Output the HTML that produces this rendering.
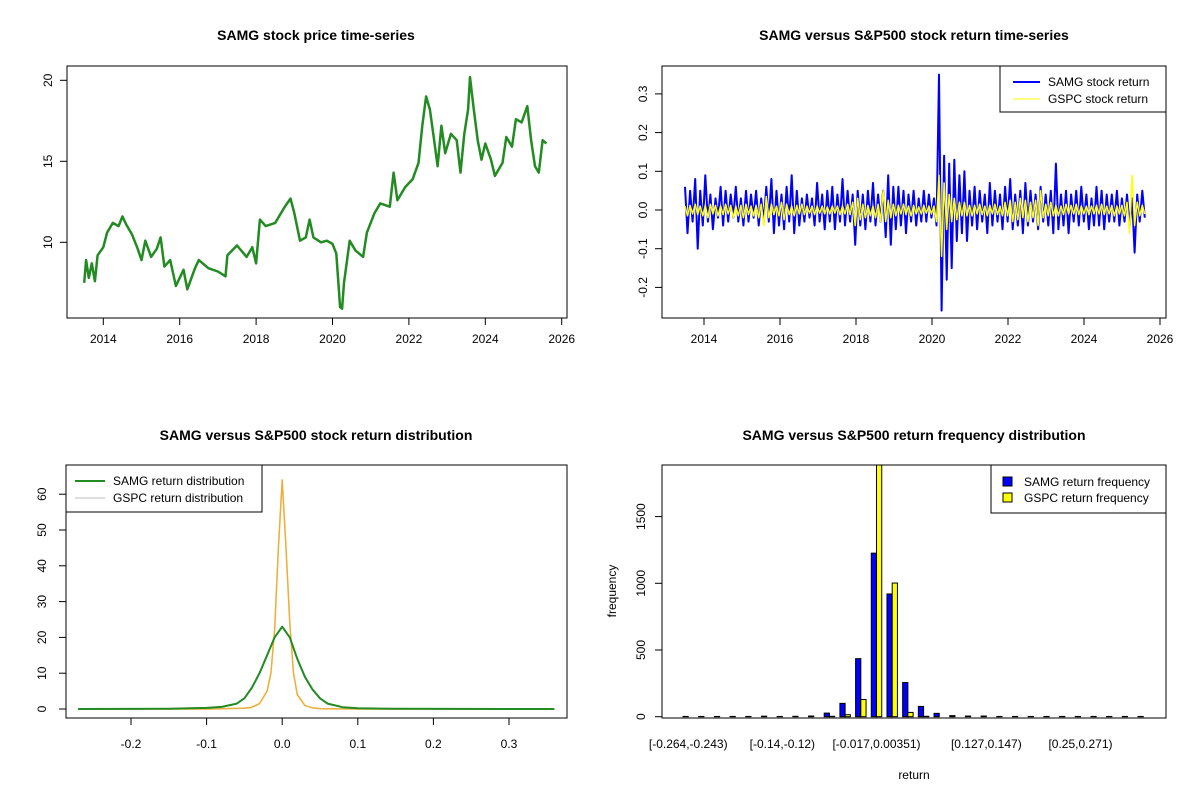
<!DOCTYPE html>
<html><head><meta charset="utf-8"><style>
body{margin:0;background:#fff}
svg{display:block}
text{font-family:"Liberation Sans",Arial,sans-serif;fill:#000}
.t{font-size:14px;font-weight:bold}
.k{font-size:12px}
</style></head><body>
<svg id="c" width="1200" height="800" viewBox="0 0 1200 800"></svg>
<script>
// ---- Panel 1 data: SAMG price ----
const priceDates=[2013.5,2013.55,2013.62,2013.7,2013.78,2013.85,2014.0,2014.1,2014.25,2014.4,2014.5,2014.6,2014.75,2014.9,2015.0,2015.1,2015.25,2015.4,2015.5,2015.6,2015.75,2015.9,2016.1,2016.2,2016.4,2016.5,2016.75,2017.0,2017.2,2017.25,2017.5,2017.75,2017.9,2018.0,2018.1,2018.25,2018.5,2018.75,2018.9,2019.0,2019.15,2019.3,2019.4,2019.5,2019.7,2019.85,2020.0,2020.1,2020.2,2020.25,2020.3,2020.45,2020.6,2020.8,2020.9,2021.1,2021.25,2021.5,2021.6,2021.7,2021.9,2022.1,2022.25,2022.35,2022.45,2022.55,2022.65,2022.75,2022.85,2022.95,2023.1,2023.25,2023.35,2023.45,2023.55,2023.6,2023.7,2023.8,2023.9,2024.0,2024.15,2024.25,2024.35,2024.45,2024.55,2024.7,2024.8,2024.95,2025.1,2025.2,2025.3,2025.4,2025.5,2025.6];
const priceVals=[7.5,8.9,7.8,8.7,7.6,9.2,9.7,10.6,11.2,11.0,11.6,11.1,10.5,9.6,8.9,10.1,9.1,9.6,10.3,8.5,8.9,7.3,8.3,7.1,8.4,8.9,8.4,8.2,7.9,9.2,9.8,9.1,9.7,8.7,11.4,11.0,11.2,12.2,12.7,11.8,10.1,10.3,11.4,10.3,10.0,10.1,9.9,9.3,6.0,5.9,7.5,10.1,9.5,9.1,10.6,11.8,12.4,12.2,14.3,12.6,13.4,13.9,14.9,17.2,19.0,18.2,16.5,14.7,17.2,15.5,16.7,16.3,14.3,16.7,18.2,20.2,18.2,16.3,15.1,16.1,15.1,14.1,14.5,14.9,16.5,15.9,17.6,17.4,18.4,16.3,14.7,14.3,16.3,16.1];
const priceTicks=[10,15,20];
const yearTicks=[2014,2016,2018,2020,2022,2024,2026];
// ---- Panel 2 data: returns ----
const samgRet=[0.06,-0.06,0.05,-0.03,0.08,-0.10,0.05,-0.04,
0.09,-0.03,0.04,-0.05,0.03,-0.02,0.06,-0.04,0.05,-0.03,0.04,-0.02,0.06,-0.03,0.03,
-0.04,0.05,-0.03,0.04,-0.02,0.05,-0.04,0.03,-0.03,0.06,-0.03,0.08,-0.06,0.05,-0.04,
0.04,-0.05,0.06,-0.03,0.09,-0.06,0.05,-0.04,0.03,-0.03,0.04,-0.02,0.03,-0.04,0.07,
-0.03,0.04,-0.05,0.05,-0.03,0.06,-0.05,0.04,-0.03,0.08,-0.04,0.05,-0.03,0.04,-0.09,
0.05,-0.04,0.04,-0.05,0.05,-0.03,0.07,-0.04,0.04,-0.03,0.05,-0.07,0.09,-0.09,0.06,
-0.05,0.06,-0.04,0.05,-0.06,0.04,-0.03,0.05,-0.04,0.03,-0.03,0.05,-0.03,0.04,-0.02,
0.03,-0.04,0.35,-0.26,0.14,-0.18,0.12,-0.15,0.13,-0.08,0.09,-0.06,0.10,-0.08,0.05,
-0.04,0.06,-0.05,0.05,-0.03,0.04,-0.06,0.07,-0.04,0.05,-0.03,0.04,-0.05,0.06,-0.03,
0.08,-0.05,0.04,-0.04,0.05,-0.06,0.07,-0.04,0.05,-0.03,0.04,-0.05,0.06,-0.03,0.04,
-0.04,0.05,-0.06,0.12,-0.05,0.04,-0.04,0.05,-0.06,0.04,-0.03,0.05,-0.04,0.06,-0.03,
0.04,-0.05,0.03,-0.04,0.06,-0.04,0.05,-0.05,0.04,-0.03,0.04,-0.03,0.05,-0.04,0.03,
-0.03,0.04,-0.04,0.03,-0.11,0.04,-0.03,0.05,-0.02];
const gspcRet=[0.01,-0.015,0.012,-0.01,0.015,-0.012,0.01,-0.015,
0.012,-0.02,0.015,-0.01,0.012,-0.015,0.01,-0.012,0.015,-0.01,0.012,-0.02,0.01,-0.015,0.012,
-0.02,0.015,-0.012,0.01,-0.015,0.012,-0.02,0.015,-0.04,0.035,-0.02,0.015,-0.012,0.01,-0.015,
0.02,-0.025,0.015,-0.012,0.01,-0.015,0.012,-0.01,0.015,-0.012,0.01,-0.008,0.01,-0.012,0.01,
-0.008,0.01,-0.01,0.008,-0.01,0.01,-0.008,0.01,-0.012,0.01,-0.01,0.015,-0.012,0.02,-0.04,
0.03,-0.025,0.015,-0.02,0.012,-0.015,0.01,-0.02,0.015,-0.03,0.05,-0.03,0.025,-0.02,0.015,
-0.015,0.012,-0.01,0.015,-0.012,0.01,-0.015,0.012,-0.01,0.008,-0.01,0.012,-0.008,0.01,-0.01,
0.01,-0.03,0.09,-0.12,0.07,-0.05,0.04,-0.03,0.03,-0.025,0.02,-0.015,0.02,-0.015,0.012,
-0.015,0.012,-0.01,0.015,-0.012,0.01,-0.015,0.012,-0.01,0.015,-0.012,0.01,-0.015,0.02,-0.015,
0.025,-0.03,0.02,-0.025,0.03,-0.02,0.025,-0.03,0.02,-0.02,0.025,-0.04,0.05,-0.02,0.015,
-0.015,0.02,-0.015,0.012,-0.015,0.01,-0.012,0.015,-0.01,0.012,-0.01,0.015,-0.012,0.01,-0.01,
0.01,-0.012,0.01,-0.01,0.012,-0.01,0.015,-0.012,0.01,-0.01,0.012,-0.015,0.01,-0.01,0.012,
-0.015,0.02,-0.06,0.09,-0.04,0.02,-0.015,0.012,-0.01];
const retTicks=[-0.2,-0.1,0.0,0.1,0.2,0.3];
// ---- Panel 3 data: densities ----
const samgDx=[-0.27,-0.15,-0.1,-0.08,-0.06,-0.05,-0.04,-0.03,-0.02,-0.01,0,0.01,0.02,0.03,0.04,0.05,0.06,0.08,0.1,0.15,0.36];
const samgDy=[0,0.05,0.3,0.6,1.5,3,6,10,15,20,23,20,14,9,5.5,3,1.5,0.5,0.2,0.05,0];
const gspcDx=[-0.27,-0.1,-0.05,-0.04,-0.03,-0.02,-0.015,-0.01,-0.005,0,0.005,0.01,0.015,0.02,0.03,0.04,0.05,0.1,0.36];
const gspcDy=[0,0,0.2,0.5,1.5,5,10,22,45,64,45,24,10,4,1,0.3,0.1,0,0];
const densYTicks=[0,10,20,30,40,50,60];
const densXTicks=[-0.2,-0.1,0.0,0.1,0.2,0.3];
// ---- Panel 4 data: histogram ----
const samgFreq=[2,2,2,2,2,4,2,3,5,27,100,435,1226,920,256,77,25,8,5,5,2,2,2,2,2,2,2,2,2,2];
const gspcFreq=[0,0,0,0,0,0,0,0,0,3,15,129,2000,1002,32,3,0,0,0,0,0,0,0,0,0,0,0,0,0,0];
const binLabels={0:"[-0.264,-0.243)",6:"[-0.14,-0.12)",12:"[-0.017,0.00351)",19:"[0.127,0.147)",25:"[0.25,0.271)"};
const freqTicks=[0,500,1000,1500];

const svg=document.getElementById('c');
const NS='http://www.w3.org/2000/svg';
function mk(tag,attrs,parent){const e=document.createElementNS(NS,tag);for(const k in attrs)e.setAttribute(k,attrs[k]);(parent||svg).appendChild(e);return e;}
function txt(x,y,s,cls,anchor,rot){const t=mk('text',{x:x,y:y,class:cls,'text-anchor':anchor||'middle'});if(rot)t.setAttribute('transform','rotate(-90 '+x+' '+y+')');t.textContent=s;return t;}
function box(x0,y0,x1,y1){return mk('rect',{x:x0,y:y0,width:x1-x0,height:y1-y0,fill:'none',stroke:'#000','stroke-width':1});}
function clip(id,x0,y0,x1,y1){const cp=mk('clipPath',{id:id});mk('rect',{x:x0,y:y0,width:x1-x0,height:y1-y0},cp);}
function poly(xs,ys,fx,fy,col,w,cp){const p=xs.map((v,i)=>fx(v).toFixed(1)+','+fy(ys[i]).toFixed(1)).join(' ');return mk('polyline',{points:p,fill:'none',stroke:col,'stroke-width':w,'clip-path':'url(#'+cp+')','stroke-linejoin':'round'});}

// ===== Panel 1 =====
{const fx=v=>103.3+(v-2014)*38.2, fy=v=>242.3-(v-10)*16.2;
clip('c1',67,66,567,318);
const g=box(67,66,567,318);
const t=txt(316,40,'SAMG stock price time-series','t');
yearTicks.forEach(y=>{mk('line',{x1:fx(y),x2:fx(y),y1:318,y2:325,stroke:'#000'});const l=txt(fx(y),343,String(y),'k');});
priceTicks.forEach(v=>{mk('line',{x1:60,x2:67,y1:fy(v),y2:fy(v),stroke:'#000'});const l=txt(52,fy(v),String(v),'k','middle',true);});
const p=poly(priceDates,priceVals,fx,fy,'#228B22',2.5,'c1');}

// ===== Panel 2 =====
{const fx=v=>704+(v-2014)*38, fy=v=>210-v*387;
clip('c2',662,66,1166,318);
const g=box(662,66,1166,318);
const t=txt(914,40,'SAMG versus S&P500 stock return time-series','t');
yearTicks.forEach(y=>{mk('line',{x1:fx(y),x2:fx(y),y1:318,y2:325,stroke:'#000'});const l=txt(fx(y),343,String(y),'k');});
retTicks.forEach(v=>{mk('line',{x1:655,x2:662,y1:fy(v),y2:fy(v),stroke:'#000'});const l=txt(647,fy(v),v.toFixed(1),'k','middle',true);});
const n=samgRet.length, d=samgRet.map((_,i)=>2013.5+i*12.1/(n-1));
const b=poly(d,samgRet,fx,fy,'#0000ff',2,'c2');
const m=gspcRet.length, d2=gspcRet.map((_,i)=>2013.5+i*12.1/(m-1));
const y=poly(d2,gspcRet,fx,fy,'#ffff00',1.5,'c2');
const lg=mk('g',{});
mk('rect',{x:1000,y:66,width:166,height:46,fill:'#fff',stroke:'#000'},lg);
mk('line',{x1:1013,x2:1040,y1:82,y2:82,stroke:'#0000ff','stroke-width':2},lg);
mk('line',{x1:1013,x2:1040,y1:99,y2:99,stroke:'#ffff00','stroke-width':1},lg);
const a=mk('text',{x:1048,y:86,class:'k'},lg);a.textContent='SAMG stock return';
const c=mk('text',{x:1048,y:103,class:'k'},lg);c.textContent='GSPC stock return';}

// ===== Panel 3 =====
{const fx=v=>282.2+v*756, fy=v=>709-v*3.58;
clip('c3',66,465,567,718);
const g=box(66,465,567,718);
const t=txt(316,440,'SAMG versus S&P500 stock return distribution','t');
densXTicks.forEach(v=>{mk('line',{x1:fx(v),x2:fx(v),y1:718,y2:725,stroke:'#000'});const l=txt(fx(v),748,v.toFixed(1),'k');});
densYTicks.forEach(v=>{mk('line',{x1:59,x2:66,y1:fy(v),y2:fy(v),stroke:'#000'});const l=txt(46,fy(v),String(v),'k','middle',true);});
const o=poly(gspcDx,gspcDy,fx,fy,'#ffa500',1.5,'c3');
const o2=poly(gspcDx,gspcDy,fx,fy,'#bebebe',0.4,'c3');
const s=poly(samgDx,samgDy,fx,fy,'#228B22',2,'c3');
const lg=mk('g',{});
mk('rect',{x:66,y:465,width:196,height:47,fill:'#fff',stroke:'#000'},lg);
mk('line',{x1:75,x2:105,y1:481,y2:481,stroke:'#228B22','stroke-width':2},lg);
mk('line',{x1:75,x2:105,y1:498,y2:498,stroke:'#bebebe','stroke-width':1},lg);
const a=mk('text',{x:113,y:485,class:'k'},lg);a.textContent='SAMG return distribution';
const c=mk('text',{x:113,y:502,class:'k'},lg);c.textContent='GSPC return distribution';}

// ===== Panel 4 =====
{const bw=5.23, x0=683, fy=v=>716.7-v*0.1334;
clip('c4',662,465,1166,718);
const t=txt(914,440,'SAMG versus S&P500 return frequency distribution','t');
freqTicks.forEach(v=>{mk('line',{x1:655,x2:662,y1:fy(v),y2:fy(v),stroke:'#000'});const l=txt(645,fy(v),String(v),'k','middle',true);});
const yl=txt(616,591,'frequency','k','middle',true);
const xl=txt(914,779,'return','k');
samgFreq.forEach((v,i)=>{const x=x0+i*3*bw;
 const r=mk('rect',{x:x,y:fy(v),width:bw,height:fy(0)-fy(v),fill:'#0000ff',stroke:'#000','stroke-width':1,'clip-path':'url(#c4)'});
 
 const h=gspcFreq[i];
 const r2=mk('rect',{x:x+bw,y:fy(h),width:bw,height:fy(0)-fy(h),fill:'#ffff00',stroke:'#000','stroke-width':1,'clip-path':'url(#c4)'});
 
 if(binLabels[i]!==undefined){const l=txt(x+bw,748,binLabels[i],'k');}
});
const g=box(662,465,1166,718);
const lg=mk('g',{});
mk('rect',{x:991,y:465,width:175,height:48,fill:'#fff',stroke:'#000'},lg);
mk('rect',{x:1003,y:477,width:9,height:9,fill:'#0000ff',stroke:'#000'},lg);
mk('rect',{x:1003,y:493,width:9,height:9,fill:'#ffff00',stroke:'#000'},lg);
const a=mk('text',{x:1024,y:486,class:'k'},lg);a.textContent='SAMG return frequency';
const c=mk('text',{x:1024,y:502,class:'k'},lg);c.textContent='GSPC return frequency';}
</script>
</body></html>
